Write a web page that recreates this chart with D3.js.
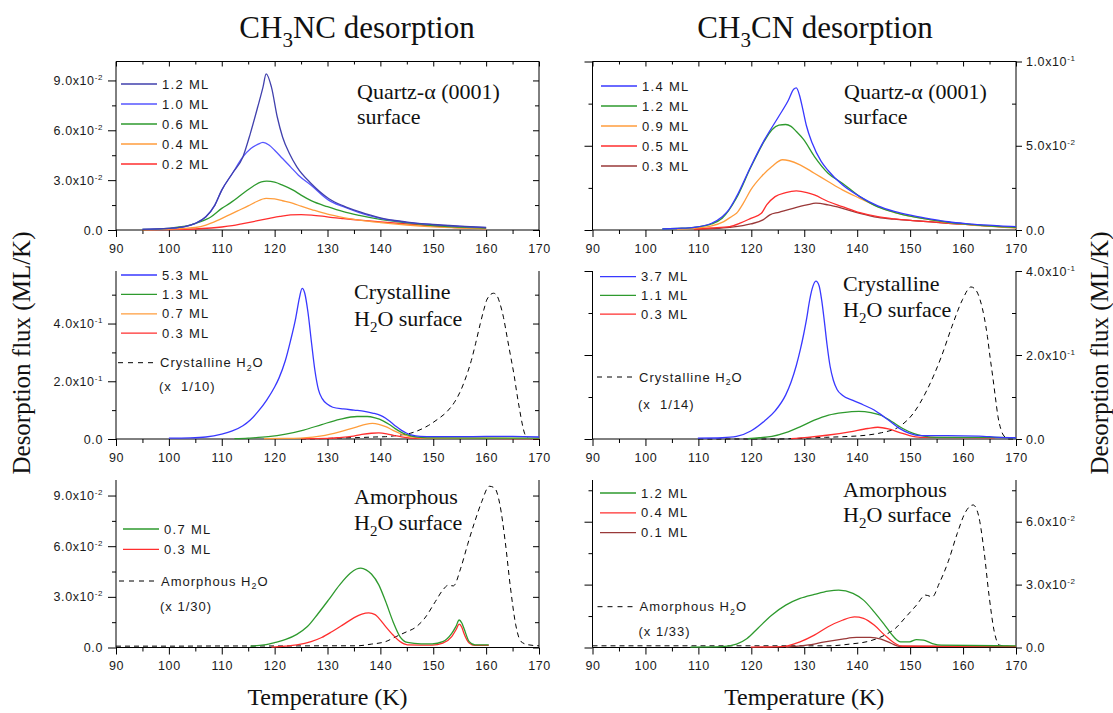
<!DOCTYPE html>
<html><head><meta charset="utf-8">
<script src="https://cdn.jsdelivr.net/npm/d3@7"></script>
<style>body{margin:0;background:#fff}svg{display:block}</style>
</head><body>
<svg id="c" width="1113" height="713"></svg>
<script>
// ---------- tick labels ----------
const tempTicks = [90,100,110,120,130,140,150,160,170];
const yTicksNCQuartz = [0,0.03,0.06,0.09];
const yTicksCNQuartz = [0,0.05,0.1];
const yTicksNCCryst = [0,0.2,0.4];
const yTicksCNCryst = [0,0.2,0.4];
const yTicksNCAmorph = [0,0.03,0.06,0.09];
const yTicksCNAmorph = [0,0.03,0.06];

// ---------- CH3NC on Quartz ----------
const nc_q_12 = [[95,0.0004],[100,0.001],[103,0.002],[105,0.004],[107,0.008],[108.7,0.015],[110,0.024],[112,0.034],[114,0.044],[115.4,0.058],[116.8,0.074],[117.8,0.086],[118.4,0.094],[119.4,0.086],[120.5,0.068],[121.5,0.056],[122.8,0.046],[124.2,0.038],[126.9,0.028],[130.2,0.019],[133,0.0145],[136,0.011],[140,0.0073],[145,0.0048],[150,0.0033],[155,0.0023],[160,0.0015]];
const nc_q_10 = [[95,0.0004],[100,0.001],[103,0.002],[105,0.004],[107,0.008],[108.7,0.015],[110,0.024],[112,0.034],[114,0.044],[115.5,0.049],[116.8,0.0515],[117.8,0.0527],[119,0.051],[120,0.048],[121.5,0.043],[123,0.038],[124.5,0.033],[126.9,0.027],[130.2,0.018],[133,0.014],[136,0.0105],[140,0.007],[145,0.0046],[150,0.0032],[155,0.0022],[160,0.0014]];
const nc_q_06 = [[95,0.0003],[100,0.001],[102,0.0018],[104,0.003],[106,0.005],[108,0.008],[110,0.013],[111.5,0.016],[112.4,0.018],[114,0.022],[116,0.0265],[117.5,0.029],[118.5,0.0294],[120,0.0288],[121.5,0.027],[123.5,0.024],[125,0.021],[127,0.0175],[130,0.014],[133,0.011],[136,0.0088],[140,0.0064],[145,0.0043],[150,0.0027],[155,0.0018],[160,0.0011]];
const nc_q_04 = [[95,0.0002],[100,0.0005],[103,0.001],[105,0.0015],[107,0.003],[109,0.0055],[111,0.0085],[113,0.0115],[115,0.0145],[116.5,0.017],[118.4,0.019],[120,0.0187],[121.5,0.0176],[123.5,0.016],[125,0.0143],[127,0.0123],[130,0.0095],[133,0.0075],[136,0.006],[140,0.0045],[145,0.003],[150,0.0019],[155,0.0012],[160,0.0007]];
const nc_q_02 = [[95,0.0001],[100,0.0003],[105,0.0006],[108,0.0012],[110,0.0018],[112,0.0026],[114,0.0038],[116.8,0.0056],[119,0.007],[121,0.0082],[123,0.0091],[125,0.0093],[127,0.009],[129,0.0083],[131,0.0074],[133,0.0068],[136,0.006],[140,0.0049],[145,0.0036],[150,0.0024],[155,0.0014],[160,0.0008]];

// ---------- CH3CN on Quartz ----------
const cn_q_14 = [[103.2,0.0006],[106,0.001],[109.2,0.0016],[112.5,0.004],[114.5,0.0079],[115.5,0.011],[117.2,0.0198],[119.9,0.0377],[122.5,0.0536],[125.2,0.0675],[127,0.077],[128,0.0835],[128.5,0.0843],[129.1,0.08],[129.7,0.072],[130.4,0.062],[131.5,0.0516],[133.2,0.0407],[134.5,0.0353],[137.2,0.0268],[140.5,0.0198],[143.9,0.0143],[147,0.011],[150.5,0.0085],[154,0.0065],[157.2,0.0049],[160.5,0.0038],[163.9,0.003],[167,0.0024],[170,0.002]];
const cn_q_12 = [[103.2,0.0006],[106,0.001],[109.2,0.0016],[112.5,0.0036],[114.5,0.007],[117.2,0.019],[119.9,0.0372],[122.5,0.053],[123.9,0.0595],[125.2,0.0622],[126.5,0.0626],[127.5,0.0615],[128.5,0.0585],[129.9,0.0536],[131.9,0.0437],[134.5,0.0337],[137.2,0.0278],[140.5,0.0198],[143.9,0.0137],[147,0.0105],[150.5,0.0079],[154,0.006],[157.2,0.0046],[160.5,0.0035],[163.9,0.0026],[167,0.002],[170,0.0016]];
const cn_q_09 = [[106,0.0006],[109.2,0.001],[112.5,0.0024],[114.8,0.005],[116.5,0.0085],[117.2,0.0099],[118.5,0.0159],[119.9,0.0238],[121.9,0.0317],[123.9,0.0377],[125.9,0.0417],[127.2,0.0411],[129.2,0.0387],[131.9,0.0337],[134.5,0.0288],[137.2,0.0238],[140.5,0.0188],[143.9,0.0139],[147,0.0105],[150.5,0.0079],[154,0.006],[157.2,0.0044],[160.5,0.0034],[163.9,0.0024],[167,0.0017],[170,0.0012]];
const cn_q_05 = [[109.2,0.0006],[112.5,0.0012],[115.9,0.002],[118,0.0042],[119.9,0.0069],[121.9,0.0099],[122.9,0.0149],[124.5,0.0198],[126.5,0.0222],[128.5,0.0232],[130.5,0.0222],[131.9,0.0208],[134.5,0.0169],[137.2,0.0139],[140.5,0.0103],[143.9,0.0079],[147,0.0066],[150.5,0.0056],[154,0.0048],[157.2,0.004],[160.5,0.0034],[163.9,0.0026],[167,0.002],[170,0.0016]];
const cn_q_03 = [[109.2,0.0003],[112.5,0.0008],[115.9,0.0016],[119.9,0.0036],[122.2,0.006],[123.5,0.009],[125.2,0.0105],[127.9,0.0129],[130.5,0.0149],[132.2,0.0159],[134.5,0.0149],[137.2,0.0129],[140.5,0.0099],[143.9,0.0075],[147,0.0064],[150.5,0.0056],[154,0.0048],[157.2,0.004],[160.5,0.0033],[163.9,0.0026],[167,0.002],[170,0.0014]];

// ---------- CH3NC on crystalline H2O ----------
const nc_c_53 = [[100,0.003],[104,0.004],[107,0.007],[110,0.017],[112,0.028],[114,0.046],[115.4,0.066],[117,0.098],[118.5,0.135],[120,0.18],[120.8,0.21],[122,0.27],[123,0.34],[124,0.42],[124.7,0.49],[125.2,0.522],[125.7,0.505],[126.3,0.44],[127,0.33],[127.6,0.24],[128.3,0.17],[129,0.14],[130,0.12],[131,0.11],[133,0.104],[135,0.1],[137,0.096],[138.5,0.09],[140,0.082],[141,0.072],[142,0.058],[143,0.043],[144,0.03],[145,0.02],[146,0.013],[147.5,0.009],[150,0.008],[155,0.008],[160,0.009],[165,0.009],[170,0.007]];
const nc_c_13 = [[112.4,0.001],[115,0.003],[118.8,0.008],[122.1,0.017],[125.5,0.031],[128.9,0.05],[132.3,0.068],[135.6,0.078],[137.5,0.078],[139,0.073],[140.5,0.063],[141.7,0.05],[142.8,0.036],[143.9,0.024],[145,0.015],[146.4,0.008],[148,0.005],[150,0.004],[160,0.003],[170,0.003]];
const nc_c_07 = [[118,0.001],[122,0.002],[125.5,0.004],[128.9,0.011],[132.3,0.025],[135.6,0.042],[137.2,0.051],[138.5,0.054],[139.7,0.051],[141,0.043],[142.4,0.03],[143.7,0.019],[145,0.011],[146.5,0.006],[148,0.003],[155,0.002],[170,0.002]];
const nc_c_03 = [[125,0.001],[130,0.002],[132.3,0.005],[134.5,0.009],[136.5,0.016],[138.3,0.02],[139.7,0.021],[141.2,0.018],[142.7,0.012],[144,0.007],[145.7,0.003],[148,0.002],[160,0.002],[170,0.001]];
const nc_c_h2o = [[125,0.0],[130,0.002],[133,0.004],[136,0.005],[139,0.007],[141,0.008],[143,0.012],[145.7,0.02],[147.5,0.032],[149.1,0.047],[150.8,0.068],[152.5,0.093],[154,0.127],[155.2,0.168],[156.2,0.215],[157.2,0.272],[158,0.33],[158.9,0.4],[159.6,0.45],[160.2,0.485],[161.4,0.505],[162.1,0.495],[162.6,0.47],[163.3,0.42],[163.9,0.36],[164.6,0.29],[165.3,0.22],[165.8,0.16],[166.3,0.105],[166.8,0.055],[167.3,0.018],[168,0.002],[170,0.0]];

// ---------- CH3CN on crystalline H2O ----------
const cn_c_37 = [[109.9,0.002],[114.5,0.003],[117.2,0.006],[119.9,0.019],[122.5,0.043],[124.5,0.067],[126.5,0.105],[127.5,0.135],[128.5,0.175],[129.3,0.215],[129.9,0.25],[130.5,0.29],[130.9,0.322],[131.5,0.358],[132.2,0.376],[132.8,0.365],[133.3,0.33],[133.8,0.28],[134.3,0.225],[134.9,0.172],[135.5,0.14],[136.2,0.118],[137.2,0.104],[139.2,0.092],[141.2,0.081],[143.2,0.069],[144.5,0.058],[145.9,0.045],[147.9,0.026],[149.9,0.0135],[151.9,0.008],[157,0.008],[163,0.007],[166.7,0.004],[170,0.003]];
const cn_c_11 = [[119.3,0.001],[121.5,0.003],[123.9,0.006],[126.5,0.015],[129.2,0.029],[131.9,0.045],[134.6,0.057],[137.3,0.063],[140.3,0.066],[142.6,0.063],[144.6,0.056],[146.6,0.041],[148.6,0.025],[150.6,0.0135],[152.6,0.007],[155,0.004],[166.7,0.004],[170,0.003]];
const cn_c_03 = [[127.5,0.001],[130.6,0.004],[134.6,0.0095],[138.6,0.017],[142,0.025],[143.9,0.028],[145.9,0.024],[147.9,0.016],[149.9,0.008],[151.9,0.004],[166,0.003]];
const cn_c_h2o = [[110,0.0],[125,0.0],[130,0.002],[134,0.004],[137.3,0.0055],[142,0.0095],[144.6,0.015],[147.9,0.029],[150.6,0.061],[153.2,0.117],[155.9,0.196],[157.9,0.268],[159.9,0.332],[161.5,0.362],[162.4,0.355],[163.2,0.332],[164,0.29],[164.6,0.244],[165.1,0.195],[165.6,0.149],[166.1,0.1],[166.6,0.053],[167.1,0.025],[167.6,0.0095],[168.6,0.0],[170,0.0]];

// ---------- CH3NC on amorphous H2O ----------
const nc_a_07 = [[115.4,0.0008],[118,0.0015],[120.1,0.003],[122.1,0.0048],[124.2,0.0078],[126.2,0.0124],[128.2,0.02],[130.2,0.0282],[132.3,0.0371],[134.3,0.044],[135.5,0.0465],[136.3,0.047],[137.3,0.046],[138.3,0.0435],[139.7,0.0371],[141,0.0272],[142.4,0.0153],[143.7,0.0065],[145.1,0.003],[147.7,0.0022],[149.8,0.0022],[151.8,0.0035],[153.5,0.0084],[154.3,0.0125],[154.9,0.0163],[155.4,0.0145],[155.8,0.0114],[156.8,0.0035],[157.9,0.0016],[160.5,0.0016]];
const nc_a_03 = [[119.4,0.0002],[122,0.0008],[124.2,0.0016],[126.9,0.0035],[128.9,0.0059],[130.9,0.0095],[132.9,0.0134],[134.9,0.0174],[136.5,0.0198],[137.8,0.0205],[139,0.0195],[139.7,0.0174],[141,0.0124],[142.4,0.0074],[143.7,0.0035],[145.1,0.0016],[149.8,0.0014],[151.8,0.0026],[153.5,0.0065],[154.3,0.0105],[154.9,0.0138],[155.4,0.012],[155.8,0.0084],[156.8,0.0026],[157.9,0.0012],[160.5,0.0012]];
const nc_a_h2o = [[90,0.0008],[100,0.0008],[110,0.0009],[120,0.0009],[130,0.001],[135.6,0.001],[138.3,0.002],[141,0.0035],[143,0.0065],[145.1,0.0095],[146.4,0.0114],[148.4,0.0174],[150.4,0.0272],[151.8,0.034],[152.8,0.0368],[153.8,0.0365],[155.2,0.047],[156.5,0.061],[157.9,0.075],[159.2,0.0866],[160.6,0.0955],[161.6,0.0945],[162.6,0.0847],[163.6,0.063],[164.6,0.0355],[165.6,0.0134],[166.6,0.0035],[168,0.0016],[170,0.001]];

// ---------- CH3CN on amorphous H2O ----------
const cn_a_12 = [[108.5,0.0002],[114.5,0.0004],[117.2,0.0016],[119.2,0.0043],[121.2,0.0091],[123.9,0.0155],[126.5,0.0202],[129.2,0.0234],[131.9,0.0253],[134.5,0.0269],[136.5,0.0274],[139.2,0.0258],[141.2,0.0226],[143.2,0.017],[145.2,0.0107],[146.9,0.0051],[148.2,0.0027],[149.9,0.0027],[151.2,0.0038],[152.5,0.0035],[154.2,0.0019],[155.9,0.0011],[170,0.0008]];
const cn_a_04 = [[119.9,0.0002],[125.9,0.0004],[129.2,0.0027],[131.9,0.0059],[134.5,0.0099],[137.2,0.013],[139.5,0.0146],[141.2,0.0139],[143.2,0.0107],[145.2,0.0059],[147.2,0.0019],[148.5,0.0006],[170,0.0005]];
const cn_a_01 = [[126.5,0.0002],[130.5,0.0011],[133.9,0.0027],[137.2,0.004],[139.9,0.0048],[142.5,0.0048],[144.5,0.004],[146.5,0.0019],[147.9,0.0006],[170,0.0004]];
const cn_a_h2o = [[90,0.0008],[110,0.0008],[130,0.0008],[134.5,0.0008],[138.5,0.0016],[142.5,0.0032],[145.2,0.0059],[147.2,0.0091],[149.2,0.0146],[151.2,0.0202],[152.9,0.025],[154.2,0.0242],[155.5,0.0306],[157.2,0.041],[158.9,0.0544],[160.5,0.0648],[161.9,0.068],[162.9,0.0632],[163.9,0.0473],[164.9,0.025],[165.9,0.0075],[166.9,0.0011],[170,0.0003]];

// ---------- colours ----------
const BLUE='#3838ff', DBLUE='#4040ad', GREEN='#2e9a2e', ORANGE='#ff9d3c', RED='#ff2e2e', BROWN='#993838';

const SANS = '"Liberation Sans", Arial, sans-serif';
const SERIF = '"Liberation Serif", "Times New Roman", serif';

const colL = {x0:116, x1:539}, colR = {x0:592.5, x1:1016};
const rows = [{y0:61.5,y1:230,top:true},{y0:271,y1:439,top:false},{y0:480,y1:647.5,top:false}];

const panels = [
 {col:colL,row:rows[0],side:'left',ymax:0.1014,yt:yTicksNCQuartz,
  series:[{d:nc_q_12,c:DBLUE,l:'1.2 ML'},{d:nc_q_10,c:'#5656ff',l:'1.0 ML'},{d:nc_q_06,c:GREEN,l:'0.6 ML'},{d:nc_q_04,c:ORANGE,l:'0.4 ML'},{d:nc_q_02,c:RED,l:'0.2 ML'}],
  leg:{x:121,y:84,dy:20}, note:{x:357,y:[98.5,124],lines:[[['Quartz-α (0001)']],[['surface']]]}},
 {col:colR,row:rows[0],side:'right',ymax:0.1,yt:yTicksCNQuartz,
  series:[{d:cn_q_14,c:BLUE,l:'1.4 ML'},{d:cn_q_12,c:GREEN,l:'1.2 ML'},{d:cn_q_09,c:ORANGE,l:'0.9 ML'},{d:cn_q_05,c:RED,l:'0.5 ML'},{d:cn_q_03,c:BROWN,l:'0.3 ML'}],
  leg:{x:601,y:86,dy:20}, note:{x:844,y:[98.5,124],lines:[[['Quartz-α (0001)']],[['surface']]]}},
 {col:colL,row:rows[1],side:'left',ymax:0.582,yt:yTicksNCCryst,
  series:[{d:nc_c_53,c:BLUE,l:'5.3 ML'},{d:nc_c_13,c:GREEN,l:'1.3 ML'},{d:nc_c_07,c:ORANGE,l:'0.7 ML'},{d:nc_c_03,c:RED,l:'0.3 ML'}],
  h2o:{d:nc_c_h2o,name:'Crystalline',scale:'(x  1/10)',x:118,y:362.7,y2:386.7},
  leg:{x:121,y:275,dy:19.4}, note:{x:354,y:[299,325.5],lines:[[['Crystalline']],[['H'],['2','sub'],['O surface']]]}},
 {col:colR,row:rows[1],side:'right',ymax:0.4,yt:yTicksCNCryst,
  series:[{d:cn_c_37,c:BLUE,l:'3.7 ML'},{d:cn_c_11,c:GREEN,l:'1.1 ML'},{d:cn_c_03,c:RED,l:'0.3 ML'}],
  h2o:{d:cn_c_h2o,name:'Crystalline',scale:'(x  1/14)',x:597,y:377,y2:404},
  leg:{x:600,y:276.7,dy:18.7}, note:{x:843,y:[290.5,317],lines:[[['Crystalline']],[['H'],['2','sub'],['O surface']]]}},
 {col:colL,row:rows[2],side:'left',ymax:0.0992,yt:yTicksNCAmorph,
  series:[{d:nc_a_07,c:GREEN,l:'0.7 ML'},{d:nc_a_03,c:RED,l:'0.3 ML'}],
  h2o:{d:nc_a_h2o,name:'Amorphous',scale:'(x 1/30)',x:119,y:581,y2:606.7},
  leg:{x:123,y:529,dy:20.3}, note:{x:354,y:[504,530],lines:[[['Amorphous']],[['H'],['2','sub'],['O surface']]]}},
 {col:colR,row:rows[2],side:'right',ymax:0.0799,yt:yTicksCNAmorph,
  series:[{d:cn_a_12,c:GREEN,l:'1.2 ML'},{d:cn_a_04,c:RED,l:'0.4 ML'},{d:cn_a_01,c:BROWN,l:'0.1 ML'}],
  h2o:{d:cn_a_h2o,name:'Amorphous',scale:'(x 1/33)',x:597.5,y:606.7,y2:631.7},
  leg:{x:600,y:493,dy:19.8}, note:{x:843,y:[497,521.5],lines:[[['Amorphous']],[['H'],['2','sub'],['O surface']]]}}
];

const svg = d3.select('#c');

function rich(sel, segs, size){
  let shift = 0;
  segs.forEach(([s,kind])=>{
    const ts = sel.append('tspan').text(s);
    const target = kind==='sub' ? size*0.28 : kind==='sup' ? -size*0.42 : 0;
    if (target-shift !== 0) ts.attr('dy', target-shift);
    shift = target;
    if (kind) ts.attr('font-size', size*0.68);
  });
}

function sciLabels(sel){
  sel.selectAll('text').each(function(d){
    const t = d3.select(this); t.text(null);
    if (d === 0) { t.append('tspan').text('0.0'); return; }
    const e = Math.floor(Math.log10(d) + 1e-9);
    const m = d / Math.pow(10, e);
    t.append('tspan').text(m.toFixed(1) + 'x10');
    t.append('tspan').attr('dy', -5).attr('font-size', 8).text('-' + Math.abs(e));
  });
}

function styleAxis(g){
  g.select('.domain').remove();
  g.selectAll('line').attr('stroke','#000').attr('stroke-width',1);
  g.selectAll('text').attr('fill','#1a1a1a').attr('font-family',SANS).attr('font-size',12.5).attr('letter-spacing','0.6px');
}

panels.forEach(p=>{
  const x = d3.scaleLinear().domain([90,170]).range([p.col.x0,p.col.x1]);
  const y = d3.scaleLinear().domain([0,p.ymax]).range([p.row.y1,p.row.y0]);
  const g = svg.append('g');
  const minorT = d3.range(95,170,10);
  const step = p.yt[1]-p.yt[0];
  const minorY = d3.range(step/2, p.ymax, step);

  // bottom axis
  g.append('g').attr('transform',`translate(0,${p.row.y1})`)
    .call(d3.axisBottom(x).tickValues(tempTicks).tickSize(7).tickPadding(7).tickSizeOuter(0)).call(styleAxis);
  g.append('g').attr('transform',`translate(0,${p.row.y1})`)
    .call(d3.axisBottom(x).tickValues(minorT).tickSize(4).tickFormat('').tickSizeOuter(0)).call(styleAxis);
  if (p.row.top){
    g.append('g').attr('transform',`translate(0,${p.row.y0})`)
      .call(d3.axisTop(x).tickValues(tempTicks).tickSize(-5).tickFormat('').tickSizeOuter(0)).call(styleAxis);
    g.append('g').attr('transform',`translate(0,${p.row.y0})`)
      .call(d3.axisTop(x).tickValues(minorT).tickSize(-3).tickFormat('').tickSizeOuter(0)).call(styleAxis);
  }

  if (p.side==='left'){
    g.append('g').attr('transform',`translate(${p.col.x0},0)`)
      .call(d3.axisLeft(y).tickValues(p.yt).tickSize(8).tickPadding(5).tickSizeOuter(0)).call(styleAxis).call(sciLabels);
    g.append('g').attr('transform',`translate(${p.col.x0},0)`)
      .call(d3.axisLeft(y).tickValues(minorY).tickSize(4).tickFormat('').tickSizeOuter(0)).call(styleAxis);
    g.append('g').attr('transform',`translate(${p.col.x1},0)`)
      .call(d3.axisRight(y).tickValues(p.yt).tickSize(-6).tickFormat('').tickSizeOuter(0)).call(styleAxis);
    g.append('g').attr('transform',`translate(${p.col.x1},0)`)
      .call(d3.axisRight(y).tickValues(minorY).tickSize(-4).tickFormat('').tickSizeOuter(0)).call(styleAxis);
  } else {
    g.append('g').attr('transform',`translate(${p.col.x0},0)`)
      .call(d3.axisLeft(y).tickValues(p.yt).tickSize(8).tickFormat('').tickSizeOuter(0)).call(styleAxis);
    g.append('g').attr('transform',`translate(${p.col.x0},0)`)
      .call(d3.axisLeft(y).tickValues(minorY).tickSize(4).tickFormat('').tickSizeOuter(0)).call(styleAxis);
    g.append('g').attr('transform',`translate(${p.col.x1},0)`)
      .call(d3.axisRight(y).tickValues(p.yt).tickSize(6).tickPadding(4).tickSizeOuter(0)).call(styleAxis).call(sciLabels);
    g.append('g').attr('transform',`translate(${p.col.x1},0)`)
      .call(d3.axisRight(y).tickValues(minorY).tickSize(-4).tickFormat('').tickSizeOuter(0)).call(styleAxis);
  }

  // frame (top edge only in the first row)
  const fx0=p.col.x0, fx1=p.col.x1, fy0=p.row.y0, fy1=p.row.y1;
  const fpath = p.row.top
    ? `M${fx0},${fy1}V${fy0}H${fx1}V${fy1}Z`
    : `M${fx0},${fy0}V${fy1}H${fx1}V${fy0}`;
  g.append('path').attr('d',fpath).attr('fill','none').attr('stroke','#000').attr('stroke-width',1);

  const line = d3.line().x(d=>x(d[0])).y(d=>y(d[1])).curve(d3.curveMonotoneX);

  if (p.h2o){
    g.append('path').attr('d',line(p.h2o.d)).attr('fill','none')
      .attr('stroke','#000').attr('stroke-width',1).attr('stroke-dasharray','5,4');
  }
  p.series.slice().reverse().forEach(s=>{
    g.append('path').attr('d',line(s.d)).attr('fill','none')
      .attr('stroke',s.c).attr('stroke-width',1.3);
  });

  // legend
  p.series.forEach((s,i)=>{
    const yy = p.leg.y + i*p.leg.dy;
    g.append('line').attr('x1',p.leg.x).attr('x2',p.leg.x+36).attr('y1',yy).attr('y2',yy)
      .attr('stroke',s.c).attr('stroke-width',1.3);
    g.append('text').attr('x',p.leg.x+41).attr('y',yy).attr('dy','0.36em')
      .attr('font-family',SANS).attr('font-size',13).attr('letter-spacing','1.3px').attr('fill','#1a1a1a')
      .text(s.l);
  });
  if (p.h2o){
    const h = p.h2o;
    g.append('line').attr('x1',h.x).attr('x2',h.x+36).attr('y1',h.y).attr('y2',h.y)
      .attr('stroke','#000').attr('stroke-width',1).attr('stroke-dasharray','5,5');
    const t1 = g.append('text').attr('x',h.x+42).attr('y',h.y).attr('dy','0.36em')
      .attr('font-family',SANS).attr('font-size',13).attr('letter-spacing','1px').attr('fill','#1a1a1a');
    rich(t1, [[h.name+' H'],['2','sub'],['O']], 13);
    g.append('text').attr('x',h.x+41).attr('y',h.y2).attr('dy','0.36em')
      .attr('font-family',SANS).attr('font-size',13).attr('letter-spacing','1px').attr('fill','#1a1a1a')
      .attr('xml:space','preserve').style('white-space','pre')
      .text(h.scale);
  }

  // annotation
  p.note.lines.forEach((segs,i)=>{
    const t = g.append('text').attr('x',p.note.x).attr('y',p.note.y[i])
      .attr('font-family',SERIF).attr('font-size',22).attr('fill','#111');
    rich(t, segs, 22);
  });
});

// titles
[['CH','3','NC desorption',357],['CH','3','CN desorption',815]].forEach(([a,b,c,cx])=>{
  const t = svg.append('text').attr('x',cx).attr('y',38).attr('text-anchor','middle')
    .attr('font-family',SERIF).attr('font-size',31).attr('fill','#111');
  rich(t, [[a],[b,'sub'],[c]], 31);
});
// x-axis titles
[(colL.x0+colL.x1)/2,(colR.x0+colR.x1)/2].forEach(cx=>{
  svg.append('text').attr('x',cx).attr('y',705).attr('text-anchor','middle')
    .attr('font-family',SERIF).attr('font-size',24).attr('fill','#111').text('Temperature (K)');
});
// y-axis titles
[[30],[1108]].forEach(([xx])=>{
  svg.append('text').attr('transform',`translate(${xx},353) rotate(-90)`).attr('text-anchor','middle')
    .attr('font-family',SERIF).attr('font-size',25).attr('fill','#111').text('Desorption flux (ML/K)');
});
</script>
</body></html>
